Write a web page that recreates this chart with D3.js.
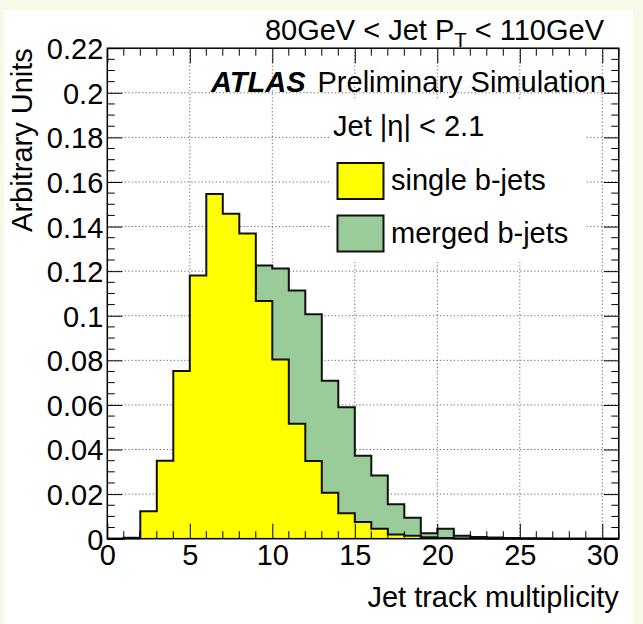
<!DOCTYPE html>
<html>
<head>
<meta charset="utf-8">
<script src="https://cdn.jsdelivr.net/npm/d3@7"></script>
<style>
  html, body { margin: 0; padding: 0; background: #f9f9e7; }
  svg { display: block; }
  text { font-family: "Liberation Sans", Arial, Helvetica, sans-serif; fill: #000; }
</style>
</head>
<body>
<svg id="chart" width="643" height="624"></svg>
<script>
// ---- data ----
const binEdges = [0,1,2,3,4,5,6,7,8,9,10,11,12,13,14,15,16,17,18,19,20,21,22,23,24,25,26,27,28,29,30];
const singleBJets = [0, 0.0004, 0.0123, 0.0350, 0.0752, 0.1181, 0.1546, 0.1457, 0.1369, 0.1066,
  0.0804, 0.0516, 0.0349, 0.0206, 0.0114, 0.0075, 0.0045, 0.0019, 0.0013, 0.0006,
  0.0003, 0.0001, 0.0001, 0, 0, 0, 0, 0, 0, 0, 0];
const mergedBJets = [0, 0.0002, 0.0030, 0.0090, 0.0210, 0.0420, 0.0660, 0.0900, 0.1100, 0.1225,
  0.1212, 0.1113, 0.1007, 0.0709, 0.0590, 0.0372, 0.0284, 0.0155, 0.0094, 0.0024,
  0.0045, 0.0013, 0.0008, 0.0005, 0.0003, 0.0002, 0.0001, 0, 0, 0, 0];
const xDomain = [0, 31];
const yDomain = [0, 0.22];
const xMajorTicks = [0, 5, 10, 15, 20, 25, 30];
const xTickLabels = ["0", "5", "10", "15", "20", "25", "30"];
const yMajorTicks = [0, 0.02, 0.04, 0.06, 0.08, 0.1, 0.12, 0.14, 0.16, 0.18, 0.2, 0.22];
const yTickLabels = ["0", "0.02", "0.04", "0.06", "0.08", "0.1", "0.12", "0.14", "0.16", "0.18", "0.2", "0.22"];
const xMinorStep = 1;
const yMinorStep = 0.005;
const seriesNames = ["single b-jets", "merged b-jets"];
const seriesColors = ["#ffff00", "#99cc99"];

// ---- layout ----
const W = 643, H = 624;
const frame = { left: 107.3, right: 618.8, top: 48.2, bottom: 538.7 };
const FS = 29;

const svg = d3.select("#chart");
svg.append("rect").attr("x", 4).attr("y", 10).attr("width", W - 14).attr("height", H - 10).attr("fill", "#fff");

const x = d3.scaleLinear().domain(xDomain).range([frame.left, frame.right]);
const y = d3.scaleLinear().domain(yDomain).range([frame.bottom, frame.top]);

// grid
const grid = svg.append("g").attr("stroke", "#666").attr("stroke-width", 1).attr("stroke-dasharray", "1.2,2.3");
grid.selectAll("line.gx").data(xMajorTicks.filter(v => v > 0)).enter().append("line")
  .attr("x1", d => x(d)).attr("x2", d => x(d)).attr("y1", frame.top).attr("y2", frame.bottom);
grid.selectAll("line.gy").data(yMajorTicks.filter(v => v > 0 && v < 0.22)).enter().append("line")
  .attr("x1", frame.left).attr("x2", frame.right).attr("y1", d => y(d)).attr("y2", d => y(d));

// legend background box (hides grid)
svg.append("rect").attr("x", 330).attr("y", 100).attr("width", 257).attr("height", 162).attr("fill", "#fff");

// histograms
function pts(vals) {
  const p = [{ x: binEdges[0], v: 0 }];
  vals.forEach((v, i) => p.push({ x: binEdges[i], v }));
  p.push({ x: xDomain[1], v: vals[vals.length - 1] });
  p.push({ x: xDomain[1], v: 0 });
  return p;
}
const area = d3.area().curve(d3.curveStepAfter).x(d => x(d.x)).y0(y(0)).y1(d => y(d.v));
const line = d3.line().curve(d3.curveStepAfter).x(d => x(d.x)).y(d => y(d.v));
[mergedBJets, singleBJets].forEach((vals, k) => {
  const color = k === 0 ? seriesColors[1] : seriesColors[0];
  svg.append("path").attr("d", area(pts(vals))).attr("fill", color);
  svg.append("path").attr("d", line(pts(vals))).attr("fill", "none").attr("stroke", "#111").attr("stroke-width", 2).attr("stroke-linejoin", "miter");
});

// axes
const majorLen = 15, minorLen = 7.5;
const xMinor = d3.range(xDomain[0], xDomain[1] + 0.001, xMinorStep).filter(v => !xMajorTicks.includes(v));
const yMinor = d3.range(yDomain[0], yDomain[1] + 1e-9, yMinorStep).map(v => +v.toFixed(4)).filter(v => !yMajorTicks.some(m => Math.abs(m - v) < 1e-9));

const gxb = svg.append("g").attr("transform", `translate(0,${frame.bottom})`)
  .call(d3.axisBottom(x).tickValues(xMajorTicks).tickFormat((d, i) => xTickLabels[i]).tickSize(-majorLen).tickPadding(6));
const gyl = svg.append("g").attr("transform", `translate(${frame.left},0)`)
  .call(d3.axisLeft(y).tickValues(yMajorTicks).tickFormat((d, i) => yTickLabels[i]).tickSize(-majorLen).tickPadding(4));
const gxt = svg.append("g").attr("transform", `translate(0,${frame.top})`)
  .call(d3.axisTop(x).tickValues(xMajorTicks).tickFormat("").tickSize(-majorLen));
const gyr = svg.append("g").attr("transform", `translate(${frame.right},0)`)
  .call(d3.axisRight(y).tickValues(yMajorTicks).tickFormat("").tickSize(-majorLen));
[gxb, gyl, gxt, gyr].forEach(g => {
  g.select(".domain").remove();
  g.selectAll(".tick line").attr("stroke", "#000").attr("stroke-width", 1);
  g.selectAll(".tick text").attr("font-size", FS).attr("font-family", "Liberation Sans, Arial, sans-serif").attr("fill", "#000");
});
gyl.selectAll(".tick text").attr("dy", "0.36em");

// minor ticks
const minor = svg.append("g").attr("stroke", "#000").attr("stroke-width", 1);
xMinor.forEach(v => {
  minor.append("line").attr("x1", x(v)).attr("x2", x(v)).attr("y1", frame.bottom).attr("y2", frame.bottom - minorLen);
  minor.append("line").attr("x1", x(v)).attr("x2", x(v)).attr("y1", frame.top).attr("y2", frame.top + minorLen);
});
yMinor.forEach(v => {
  minor.append("line").attr("x1", frame.left).attr("x2", frame.left + minorLen).attr("y1", y(v)).attr("y2", y(v));
  minor.append("line").attr("x1", frame.right).attr("x2", frame.right - minorLen).attr("y1", y(v)).attr("y2", y(v));
});

// frame
svg.append("rect").attr("x", frame.left).attr("y", frame.top)
  .attr("width", frame.right - frame.left).attr("height", frame.bottom - frame.top)
  .attr("fill", "none").attr("stroke", "#000").attr("stroke-width", 1.5);

// axis titles
svg.append("text").attr("x", frame.right).attr("y", 607).attr("text-anchor", "end")
  .attr("font-size", FS).text("Jet track multiplicity");
svg.append("text").attr("transform", `translate(32,${frame.top}) rotate(-90)`).attr("text-anchor", "end")
  .attr("font-size", FS).text("Arbitrary Units");

// title
const t = svg.append("text").attr("x", 604).attr("y", 40).attr("text-anchor", "end").attr("font-size", FS);
t.append("tspan").text("80GeV < Jet P");
t.append("tspan").attr("font-size", FS * 0.7).attr("dy", 7).text("T");
t.append("tspan").attr("dy", -7).text(" < 110GeV");

// ATLAS label
const a = svg.append("text").attr("x", 606).attr("y", 92).attr("text-anchor", "end").attr("font-size", FS);
a.append("tspan").attr("font-weight", "bold").attr("font-style", "italic").text("ATLAS");
a.append("tspan").attr("dx", 12).text("Preliminary Simulation");

// legend
svg.append("text").attr("x", 333).attr("y", 136).attr("font-size", FS).text("Jet |\u03b7| < 2.1");
const legY = [163, 215.5];
seriesNames.forEach((name, i) => {
  svg.append("rect").attr("x", 337.5).attr("y", legY[i]).attr("width", 46).attr("height", 36)
    .attr("fill", seriesColors[i]).attr("stroke", "#111").attr("stroke-width", 2);
  svg.append("text").attr("x", 391).attr("y", legY[i] + 27).attr("font-size", FS).text(name);
});
</script>
</body>
</html>
